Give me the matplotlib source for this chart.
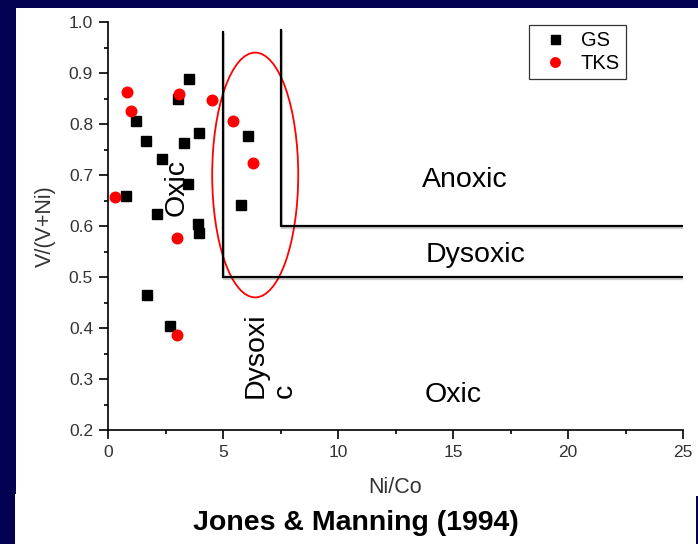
import numpy as np
import matplotlib
matplotlib.use("Agg")
import matplotlib.pyplot as plt
from matplotlib.patches import Ellipse, Rectangle
import matplotlib.patheffects as pe

plt.rcParams['font.family'] = ['Liberation Sans', 'DejaVu Sans']

# data
gs_x = [0.78, 1.22, 1.65, 2.36, 2.14, 3.03, 3.52, 3.30, 3.96, 3.46, 3.91, 3.96, 6.10, 5.80, 1.71, 2.68]
gs_y = [0.659, 0.805, 0.767, 0.731, 0.624, 0.850, 0.888, 0.763, 0.783, 0.682, 0.604, 0.586, 0.776, 0.641, 0.465, 0.404]
tks_x = [0.30, 0.81, 1.00, 3.09, 4.52, 5.45, 6.29, 2.99, 2.99]
tks_y = [0.657, 0.862, 0.826, 0.859, 0.847, 0.805, 0.723, 0.576, 0.386]

# field boundaries (Ni/Co, V/(V+Ni))
bound_x1 = [5, 5, 25]
bound_y1 = [0.98, 0.5, 0.5]
bound_x2 = [7.5, 7.5, 25]
bound_y2 = [0.984, 0.6, 0.6]

navy = '#020050'
fig = plt.figure(figsize=(6.98, 5.44), dpi=100, facecolor=navy)
W, H = 698.0, 544.0
fig.patches.append(Rectangle((16 / W, 1 - 496 / H), (698 - 16) / W, (496 - 8) / H,
                             transform=fig.transFigure, facecolor='white', edgecolor='none', zorder=-10))
fig.patches.append(Rectangle((15 / W, 0), (696 - 15) / W, 50 / H,
                             transform=fig.transFigure, facecolor='white', edgecolor='none', zorder=-10))

ax = fig.add_axes([108 / W, 1 - 430 / H, (683 - 108) / W, (430 - 22) / H])
ax.set_facecolor('none')
ax.set_zorder(5)

shadow = [pe.SimpleLineShadow(offset=(1.0, -1.5), alpha=0.2), pe.Normal()]
ax.plot(bound_x1, bound_y1, color='black', lw=1.6, path_effects=shadow, solid_joinstyle='miter')
ax.plot(bound_x2, bound_y2, color='black', lw=1.6, path_effects=shadow, solid_joinstyle='miter')

ax.plot(gs_x, gs_y, 's', color='black', ms=7.2, label='GS', zorder=3)
ax.plot(tks_x, tks_y, 'o', color='red', ms=7.6, mec='red', label='TKS', zorder=3)

ax.add_patch(Ellipse((6.4, 0.70), 3.74, 0.48, fill=False, edgecolor='red', lw=1.3))

tk = dict(fontsize=20.5, color='black')
ax.text(3.0, 0.675, 'Oxic', rotation=90, ha='center', va='center', **tk)
ax.text(15.5, 0.69, 'Anoxic', ha='center', va='center', **tk)
ax.text(15.96, 0.543, 'Dysoxic', ha='center', va='center', **tk)
ax.text(15.0, 0.269, 'Oxic', ha='center', va='center', **tk)
ax.text(7.05, 0.262, 'Dysoxi\nc', rotation=90, ha='center', va='bottom',
        multialignment='left', linespacing=1.15, **tk)

ax.set_xlim(0, 25)
ax.set_ylim(0.2, 1.0)
ax.set_xticks([0, 5, 10, 15, 20, 25])
ax.set_xticks(np.arange(2.5, 25, 5), minor=True)
ax.set_yticks(np.arange(0.2, 1.01, 0.1))
ax.set_yticks(np.arange(0.25, 1.0, 0.1), minor=True)
ax.set_yticklabels(['%.1f' % v for v in np.arange(0.2, 1.01, 0.1)])

for s in ['top', 'right']:
    ax.spines[s].set_visible(False)
for s in ['left', 'bottom']:
    ax.spines[s].set_linewidth(1.2)
ax.tick_params(which='major', direction='out', length=6.3, width=1.2, labelsize=12.5,
               labelcolor='#333333', pad=4.5)
ax.tick_params(which='minor', direction='out', length=3.2, width=1.2)

ax.set_xlabel('Ni/Co', fontsize=15.5, color='#333333', labelpad=12)
ax.set_ylabel('V/(V+Ni)', fontsize=15.5, color='#333333', labelpad=9)

leg = ax.legend(loc='upper right', bbox_to_anchor=(626 / W, 1 - 25 / H),
                bbox_transform=fig.transFigure, fontsize=14.5, frameon=True, fancybox=False,
                edgecolor='black', handlelength=1.9, handletextpad=0.35, borderpad=0.3,
                labelspacing=0.2, markerscale=0.9, borderaxespad=0)
leg.get_frame().set_linewidth(0.9)

fig.text(356 / W, 1 - 523 / H, 'Jones & Manning (1994)', fontsize=20.5, fontweight='bold',
         ha='center', va='center', color='black')

fig.savefig('out.png', dpi=100, facecolor=navy)
